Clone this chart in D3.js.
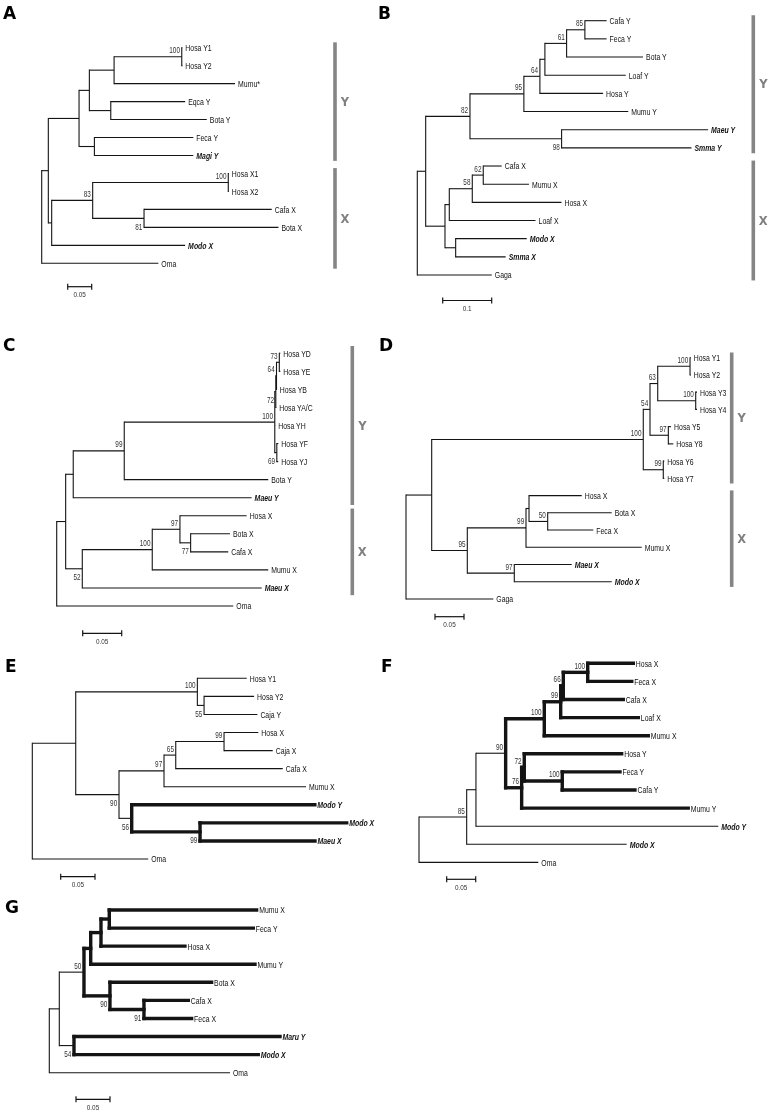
<!DOCTYPE html>
<html><head><meta charset="utf-8">
<script src="https://cdn.jsdelivr.net/npm/d3@7"></script>
<style>body{margin:0;background:#fff} svg{will-change:transform} text{-webkit-font-smoothing:antialiased}</style>
</head><body>
<svg id="fig" width="770" height="1114"></svg>
<script>
// ---------- DATA (Newick trees: branch lengths in substitutions/site; internal labels = bootstrap; 'v' = label below node, '#' = highlighted clade) ----------
const treeA = "((((((Hosa Y1:0.0012,Hosa Y2:0.0012)100:0.141,Mumu*:0.252):0.0515,(Eqca Y:0.155,Bota Y:0.2):0.0446):0.0215,(Feca Y:0.206,Magi Y:0.206):0.032):0.064,(((Hosa X1:0.0012,Hosa X2:0.0012)100:0.2825,(Cafa X:0.266,Bota X:0.28)81v:0.107)83:0.0854,Modo X:0.278):0.007):0.0138,Oma:0.243);";
const treeB = "((((((((Cafa Y:0.0443,Feca Y:0.0443)85:0.0373,Bota Y:0.156)61:0.0443,Loaf Y:0.165):0.0102,Hosa Y:0.129)64:0.0327,Mumu Y:0.213)95:0.110,(Maeu Y:0.299,Smma Y:0.265)98v:0.187)82:0.0904,((((Cafa X:0.0376,Mumu X:0.0933)62:0.0224,Hosa X:0.182)58:0.0469,Loaf X:0.176):0.0088,(Modo X:0.145,Smma X:0.102):0.0218):0.0394):0.0171,Gaga:0.152);";
const treeC = "((((((((Hosa YD:0.0013,Hosa YE:0.0013)73:0.0036,Hosa YB:0.0003)64:0.0009,Hosa YA/C:0.0005)72v:0.0013,Hosa YH:0.0005,(Hosa YF:0.0019,Hosa YJ:0.0019)69v:0.0026)100:0.193,Bota Y:0.1846)99:0.0654,Maeu Y:0.2287):0.0097,(((Hosa X:0.0855,(Bota X:0.0504,Cafa X:0.0482)77v:0.0137)97:0.0355,Mumu X:0.1487)100:0.0897,Maeu X:0.230)52v:0.0213):0.0115,Oma:0.2264);";
const treeD = "((((((Hosa Y1:0.0012,Hosa Y2:0.0012)100:0.0557,(Hosa Y3:0.0022,Hosa Y4:0.0022)100:0.0655)63:0.0133,(Hosa Y5:0.0047,Hosa Y8:0.0086)97:0.0316)54:0.0116,(Hosa Y6:0.0017,Hosa Y7:0.0017)99:0.0345)100:0.3648,(((Hosa X:0.0909,(Bota X:0.1103,Feca X:0.0786)50:0.0322):0.0052,Mumu X:0.1995)99:0.1012,(Maeu X:0.099,Modo X:0.168)97:0.081)95:0.0614):0.0443,Gaga:0.1505);";
const treeE = "(((Hosa Y1:0.072,(Hosa Y2:0.0729,Caja Y:0.0777)55v:0.0098)100:0.1773,((((Hosa X:0.05,Caja X:0.071)99:0.0704,Cafa X:0.156)65:0.0171,Mumu X:0.207)97:0.0656,(Modo Y:0.267,(Modo X:0.2138,Maeu X:0.1676)99v#:0.0996)56v#:0.0185)90v:0.0631):0.0633,Oma:0.169);";
const treeF = "((((((((Hosa X:0.0786,Feca X:0.0759)100:0.0421,Cafa X:0.1034)66:0.0045,Loaf X:0.1338)99:0.0283,Mumu X:0.1793)100:0.0666,((Hosa Y:0.1679,(Feca Y:0.0995,Cafa Y:0.1253)100:0.0655)72:0.0045,Mumu Y:0.2872)76:0.0276)90#:0.0512,Modo Y:0.4178):0.016,Modo X:0.2759)85:0.0822,Oma:0.2057);";
const treeG = "((((((Mumu X:0.2167,Feca Y:0.2118):0.0122,Hosa X:0.1235):0.0151,Mumu Y:0.2416):0.0099,(Bota X:0.1495,(Cafa X:0.0652,Feca X:0.0701)91v:0.05)90v:0.0382)50#:0.0363,(Maru Y:0.303,Modo X:0.271)54v#:0.0216):0.0147,Oma:0.2657);";

const panelLetters = ["A", "B", "C", "D", "E", "F", "G"];
const scaleBarValues = [0.05, 0.1, 0.05, 0.05, 0.05, 0.05, 0.05];
const scaleBarLabels = ["0.05", "0.1", "0.05", "0.05", "0.05", "0.05", "0.05"];
const groupsA = [["Y", "Hosa Y1", "Magi Y"], ["X", "Hosa X1", "Oma"]];
const groupsB = [["Y", "Cafa Y", "Smma Y"], ["X", "Cafa X", "Gaga"]];
const groupsC = [["Y", "Hosa YD", "Maeu Y"], ["X", "Hosa X", "Maeu X"]];
const groupsD = [["Y", "Hosa Y1", "Hosa Y7"], ["X", "Hosa X", "Modo X"]];
const emphasizedSpecies = ["Magi", "Maeu", "Smma", "Modo", "Maru"];

// ---------- LAYOUT ----------
const layout = [
  {tree: treeA, groups: groupsA, rootX: 41.7, ppu: 480, top: 47.7, bottom: 263.3, letter: [3, 19], bar: [67.7, 286.7], groupX: 335, gpad: 0.3},
  {tree: treeB, groups: groupsB, rootX: 417.3, ppu: 490, top: 20.7, bottom: 275, letter: [378, 19], bar: [442.7, 300.5], groupX: 753.3, gpad: 0.3},
  {tree: treeC, groups: groupsC, rootX: 56.7, ppu: 780, top: 353.3, bottom: 606, letter: [3, 351], bar: [82.7, 633.3], groupX: 352.3, gpad: 0.4},
  {tree: treeD, groups: groupsD, rootX: 406, ppu: 580, top: 357.7, bottom: 599, letter: [379, 351], bar: [435, 616.7], groupX: 731.7, gpad: 0.3},
  {tree: treeE, groups: [], rootX: 32.3, ppu: 686, top: 678.3, bottom: 859, letter: [5, 672], bar: [60.7, 876.7], groupX: 0, gpad: 0},
  {tree: treeF, groups: [], rootX: 419, ppu: 580, top: 663.3, bottom: 862.4, letter: [381, 672], bar: [446.7, 879.3], groupX: 0, gpad: 0},
  {tree: treeG, groups: [], rootX: 49.3, ppu: 680, top: 910, bottom: 1072.7, letter: [5, 913], bar: [76, 1099.3], groupX: 0, gpad: 0}
];

const LEAF_FONT = "'Liberation Sans', Arial, sans-serif";
const THIN = 1.1, THICK = 3.4, INK = "#141414";

function parseNewick(s) {
  let i = 0;
  function node() {
    const n = {children: []};
    if (s[i] === "(") {
      i++;
      n.children.push(node());
      while (s[i] === ",") { i++; n.children.push(node()); }
      i++;
    }
    let name = "";
    while (i < s.length && !",():;".includes(s[i])) name += s[i++];
    n.name = name.trim();
    n.length = 0;
    if (s[i] === ":") {
      i++;
      let l = "";
      while (i < s.length && !",();".includes(s[i])) l += s[i++];
      n.length = parseFloat(l);
    }
    if (!n.children.length) delete n.children;
    return n;
  }
  return node();
}

const svg = d3.select("#fig");

layout.forEach((P, pi) => {
  const g = svg.append("g");
  const root = d3.hierarchy(parseNewick(P.tree));
  root.eachBefore(d => {
    d.dist = d.parent ? d.parent.dist + d.data.length : 0;
    d.thick = (d.parent && d.parent.thick) || (!!d.children && d.data.name.includes("#"));
  });
  const leaves = root.leaves();
  const yLeaf = d3.scaleLinear().domain([0, leaves.length - 1]).range([P.top, P.bottom]);
  leaves.forEach((l, i) => { l.y = yLeaf(i); });
  root.eachAfter(d => {
    if (d.children) d.y = (d.children[0].y + d.children[d.children.length - 1].y) / 2;
  });
  const x = d3.scaleLinear().domain([0, 1]).range([P.rootX, P.rootX + P.ppu]);

  // horizontal branches
  g.selectAll("line.h").data(root.descendants().filter(d => d.parent)).join("line")
    .attr("x1", d => x(d.parent.dist)).attr("x2", d => x(d.dist))
    .attr("y1", d => d.y).attr("y2", d => d.y)
    .attr("stroke", INK).attr("stroke-width", d => d.parent.thick ? THICK : THIN)
    .attr("stroke-linecap", d => d.parent.thick ? "square" : "butt");
  // vertical connectors
  g.selectAll("line.v").data(root.descendants().filter(d => d.children)).join("line")
    .attr("x1", d => x(d.dist)).attr("x2", d => x(d.dist))
    .attr("y1", d => d.children[0].y).attr("y2", d => d.children[d.children.length - 1].y)
    .attr("stroke", INK).attr("stroke-width", d => d.thick ? THICK : THIN)
    .attr("stroke-linecap", "square");

  // leaf labels
  g.selectAll("text.leaf").data(leaves).join("text")
    .attr("transform", d => `translate(${x(d.dist) + (d.parent.thick ? 2.5 : 3)},${d.y}) scale(0.72,1)`)
    .attr("dy", "0.36em")
    .attr("font-family", LEAF_FONT).attr("font-size", 9.6)
    .attr("fill", "#111")
    .attr("font-weight", d => emphasizedSpecies.includes(d.data.name.split(" ")[0]) ? "bold" : "normal")
    .attr("font-style", d => emphasizedSpecies.includes(d.data.name.split(" ")[0]) ? "italic" : "normal")
    .text(d => d.data.name);

  // bootstrap labels
  const supported = root.descendants().filter(d => d.children && /\d/.test(d.data.name));
  g.selectAll("text.bs").data(supported).join("text")
    .attr("transform", d => {
      const below = d.data.name.includes("v");
      return `translate(${x(d.dist) - (d.thick ? 2.6 : 1.8)},${below ? d.y + 11.5 : d.y - 3.5}) scale(0.78,1)`;
    })
    .attr("text-anchor", "end")
    .attr("font-family", LEAF_FONT).attr("font-size", 8.2)
    .attr("fill", "#333")
    .text(d => d.data.name.replace(/[v#]/g, ""));

  // scale bar
  const sx0 = P.bar[0], sy = P.bar[1];
  const sLen = x(scaleBarValues[pi]) - x(0);
  const sb = g.append("g").attr("stroke", INK).attr("stroke-width", 1.2);
  sb.append("line").attr("x1", sx0).attr("x2", sx0 + sLen).attr("y1", sy).attr("y2", sy);
  sb.append("line").attr("x1", sx0).attr("x2", sx0).attr("y1", sy - 3).attr("y2", sy + 3);
  sb.append("line").attr("x1", sx0 + sLen).attr("x2", sx0 + sLen).attr("y1", sy - 3).attr("y2", sy + 3);
  g.append("text")
    .attr("transform", `translate(${sx0 + sLen / 2},${sy + 10.5}) scale(0.82,1)`)
    .attr("text-anchor", "middle").attr("font-family", LEAF_FONT).attr("font-size", 7.8)
    .attr("fill", "#333").text(scaleBarLabels[pi]);

  // group bars
  const step = yLeaf(1) - yLeaf(0);
  const byName = new Map(leaves.map(l => [l.data.name, l]));
  P.groups.forEach(([lab, a, b]) => {
    const y1 = byName.get(a).y - P.gpad * step, y2 = byName.get(b).y + P.gpad * step;
    g.append("line").attr("x1", P.groupX).attr("x2", P.groupX).attr("y1", y1).attr("y2", y2)
      .attr("stroke", "#858585").attr("stroke-width", 3.6);
    g.append("text").attr("x", P.groupX + 10).attr("y", (y1 + y2) / 2).attr("dy", "0.36em")
      .attr("text-anchor", "middle").attr("font-family", "'DejaVu Sans', sans-serif")
      .attr("font-weight", "bold").attr("font-size", 11.5).attr("fill", "#808080").text(lab);
  });

  // panel letter
  g.append("text").attr("x", P.letter[0]).attr("y", P.letter[1])
    .attr("font-family", "'DejaVu Sans', sans-serif").attr("font-weight", "bold")
    .attr("font-size", 17).attr("fill", "#000").text(panelLetters[pi]);
});
</script>
</body></html>
